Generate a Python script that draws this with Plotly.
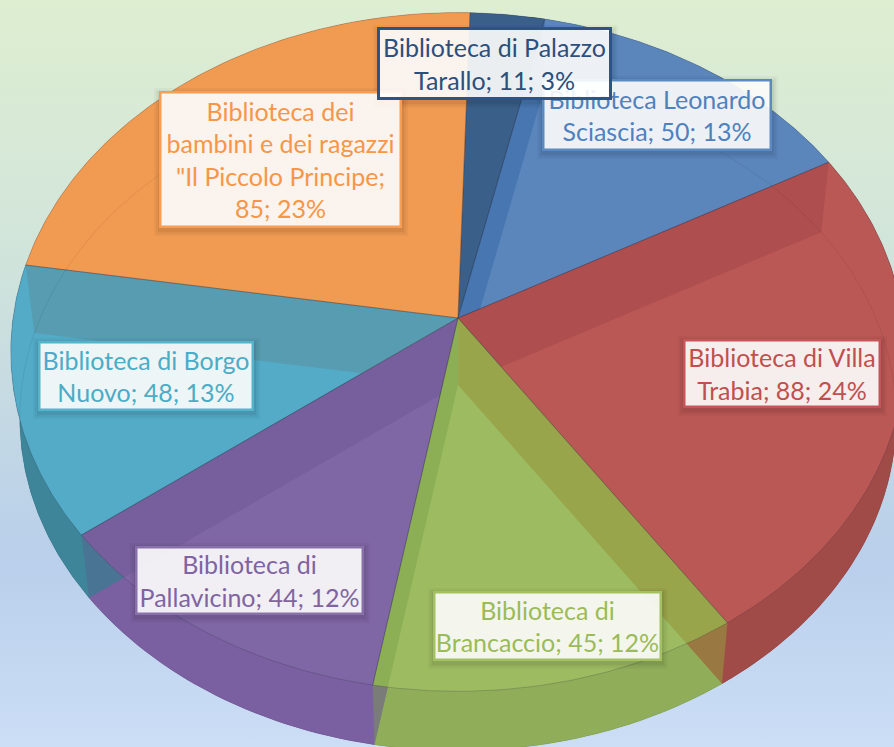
import numpy as np
import plotly.graph_objects as go

names = ["Biblioteca di Palazzo<br>Tarallo", "Biblioteca Leonardo<br>Sciascia", "Biblioteca di Villa<br>Trabia",
         "Biblioteca di<br>Brancaccio", "Biblioteca di<br>Pallavicino", "Biblioteca di Borgo<br>Nuovo",
         "Biblioteca dei<br>bambini e dei ragazzi<br>\"Il Piccolo Principe"]
values = [11, 50, 88, 45, 44, 48, 85]
breaks = [" ", " ", " ", " ", " ", " ", "<br>"]

top_cols = ["#3A5F88", "#5A86BC", "#BA5855", "#9DBC62", "#7F66A5", "#53ABC8", "#F09A52"]
wall_cols = ["rgba(200,120,50,0.0)", "rgba(50,100,165,0.45)", "rgba(150,60,65,0.32)", "rgba(150,150,60,0.6)",
             "rgba(120,160,70,0.45)", "rgba(100,80,135,0.3)", "rgba(90,150,165,0.7)"]
wall_host = [0, 1, 2, 3, 3, 4, 5]  # the slice each radial wall is seen through
side_cols = ["#2F5079", "#4A76AC", "#A14B49", "#90AE5A", "#7A60A0", "#3E8599", "#D98840"]
text_cols = ["#2C4F7C", "#4F81BD", "#C0504D", "#9BBB59", "#8064A2", "#4BACC6", "#F79646"]
border_cols = ["#2F5483", "#5B8AC2", "#C4565A", "#A3C163", "#8A70AB", "#55B3CC", "#F79D55"]

# label box placement: x0, y0, x1, y1 in the picture
boxes = [(377, 27, 612, 100), (541, 78, 772, 151), (682, 338, 881, 408), (432, 590, 662, 661),
         (134, 545, 364, 615), (37, 340, 254, 411), (158, 90, 402, 228)]
draw_order = [6, 1, 0, 2, 5, 4, 3]

START = 1.7
K = 0.10


def project(theta_deg, r=1.0, bottom=False):
    t = np.radians(theta_deg)
    x, y = r * np.sin(t), r * np.cos(t)
    d = 1 + K * y
    s, cy = (0.98, 385.0) if bottom else (1.0, 318.0)
    return 458 + s * 445 * x / d, cy - s * 336 * y / d


def arc(a, b, bottom=False):
    th = np.linspace(a, b, max(int(abs(b - a)) * 2, 4))
    return project(th, 1.0, bottom)


def clip_halfplane(pts, a, b, inside):
    """Keep the part of polygon pts on the same side of line a-b as the point inside."""
    def side(p):
        return (b[0] - a[0]) * (p[1] - a[1]) - (b[1] - a[1]) * (p[0] - a[0])
    sgn = np.sign(side(inside))
    out = []
    for j in range(len(pts)):
        p, q = pts[j], pts[(j + 1) % len(pts)]
        sp, sq = side(p) * sgn, side(q) * sgn
        if sp >= -1e-9:
            out.append(p)
        if (sp > 1e-9 and sq < -1e-9) or (sp < -1e-9 and sq > 1e-9):
            u = sp / (sp - sq)
            out.append((p[0] + u * (q[0] - p[0]), p[1] + u * (q[1] - p[1])))
    return out


fig = go.Figure()


def poly(xs, ys, fill):
    fig.add_trace(go.Scatter(x=list(xs) + [xs[0]], y=list(ys) + [ys[0]], mode="lines", fill="toself",
                             fillcolor=fill, line=dict(color="rgba(0,0,0,0)", width=0),
                             hoverinfo="skip", showlegend=False))


# background
fig.add_trace(go.Scatter(x=[0, 894, 894, 0, 0], y=[0, 0, 747, 747, 0], mode="lines", fill="toself",
                         line=dict(width=0, color="rgba(0,0,0,0)"), hoverinfo="skip", showlegend=False,
                         fillgradient=dict(type="vertical",
                                           colorscale=[[0, "#CCDEF6"], [0.25, "#B9CFEB"], [0.68, "#D2E5DA"], [1, "#DEEED1"]])))

total = sum(values)
edges = START + np.concatenate([[0], np.cumsum(values)]) / total * 360
N = len(values)
center = project(0, 0)

# outer walls + bottom faces
for i in range(N):
    a, b = edges[i], edges[i + 1]
    tx, ty = arc(a, b)
    bx, by = arc(a, b, True)
    poly(np.concatenate([tx, bx[::-1]]), np.concatenate([ty, by[::-1]]), side_cols[i])
for i in range(N):
    a, b = edges[i], edges[i + 1]
    bx, by = arc(a, b, True)
    cx, cy = project(0, 0, True)
    poly(np.concatenate([[cx], bx]), np.concatenate([[cy], by]), side_cols[i])
# top faces
for i in range(N):
    a, b = edges[i], edges[i + 1]
    tx, ty = arc(a, b)
    poly(np.concatenate([[center[0]], tx]), np.concatenate([[center[1]], ty]), top_cols[i])
# radial walls, seen through the translucent slices and kept inside the host wedge
for i in range(N):
    e = edges[i]
    quad = [project(e, 0), project(e), project(e, 1.0, True), project(e, 0, True)]
    h = wall_host[i]
    mid = project((edges[h] + edges[h + 1]) / 2)
    quad = clip_halfplane(quad, center, project(edges[h]), mid)
    quad = clip_halfplane(quad, center, project(edges[h + 1]), mid)
    if len(quad) >= 3:
        poly([p[0] for p in quad], [p[1] for p in quad], wall_cols[i])
# faint rim of the lower face
for i in range(N):
    bx, by = arc(edges[i], edges[i + 1], True)
    fig.add_trace(go.Scatter(x=bx, y=by, mode="lines", line=dict(color="rgba(0,0,0,0.07)", width=1),
                             hoverinfo="skip", showlegend=False))
# crisp slice edges
for i in range(N):
    tx, ty = arc(edges[i], edges[i + 1])
    fig.add_trace(go.Scatter(x=np.concatenate([[center[0]], tx, [center[0]]]),
                             y=np.concatenate([[center[1]], ty, [center[1]]]), mode="lines",
                             line=dict(color="rgba(40,40,60,0.22)", width=1), hoverinfo="skip", showlegend=False))

# labels
shapes, annos = [], []
for i in draw_order:
    x0, y0, x1, y1 = boxes[i]
    pct = round(values[i] / total * 100)
    text = f"{names[i]};{breaks[i]}{values[i]}; {pct}%"
    for grow, alpha in ((5, 0.03), (3, 0.04), (1, 0.05)):
        shapes.append(dict(type="rect", xref="x", yref="y", x0=x0 + 1 - grow, x1=x1 + 1 + grow, y0=y0 + 3 - grow,
                           y1=y1 + 3 + grow, fillcolor=f"rgba(0,0,0,{alpha})", line=dict(width=0), layer="above"))
    annos.append(dict(x=(x0 + x1) / 2, y=(y0 + y1) / 2, xref="x", yref="y", xanchor="center", yanchor="middle",
                      text=text, showarrow=False, align="center", width=x1 - x0 - 6, height=y1 - y0 - 6,
                      bgcolor="rgba(255,255,255,0.9)", bordercolor=border_cols[i],
                      borderwidth=3 if i == 0 else 2.5, borderpad=0,
                      font=dict(family="Lato", size=25, color=text_cols[i])))

fig.update_layout(width=894, height=747, margin=dict(l=0, r=0, t=0, b=0), showlegend=False,
                  paper_bgcolor="#D2E5DA", plot_bgcolor="rgba(0,0,0,0)", shapes=shapes, annotations=annos,
                  xaxis=dict(range=[0, 894], visible=False, fixedrange=True),
                  yaxis=dict(range=[747, 0], visible=False, fixedrange=True))
fig.write_html("out.html", config={"displayModeBar": False},
               post_script="document.body.style.margin='0';document.body.style.overflow='hidden';")
